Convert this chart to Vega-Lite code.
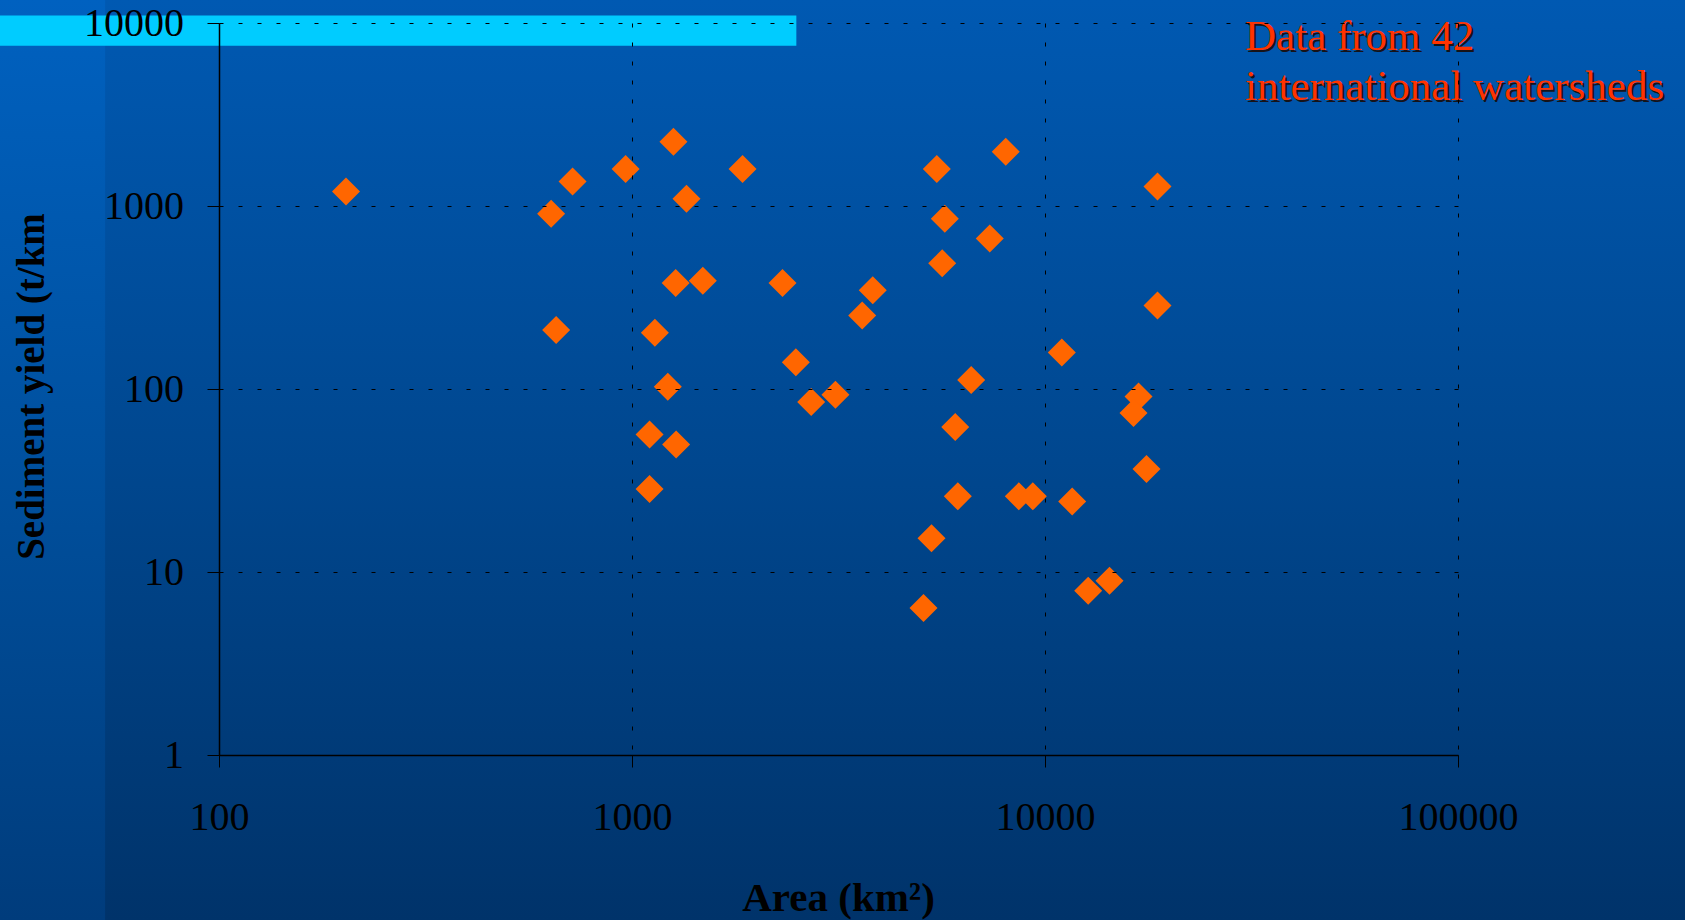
{
  "$schema": "https://vega.github.io/schema/vega-lite/v6.json",
  "width": 1239,
  "height": 732,
  "autosize": {"type": "none"},
  "padding": {"left": 219, "top": 23, "right": 227, "bottom": 165},
  "background": "#00468e",
  "config": {
    "view": {"stroke": null},
    "axis": {
      "grid": true, "gridColor": "#000000", "gridDash": [4, 15], "gridWidth": 1, "gridOpacity": 1,
      "domainColor": "#000000", "domainWidth": 1.5,
      "tickColor": "#000000", "tickSize": 12, "tickWidth": 1,
      "labelFont": "Liberation Serif", "labelFontSize": 40, "labelColor": "#000000",
      "labelFlush": false, "labelOverlap": false,
      "titleFont": "Liberation Serif", "titleFontWeight": "bold", "titleColor": "#000000"
    }
  },
  "layer": [
    {
      "data": {"values": [{}]},
      "mark": {"type": "rect", "fill": {"gradient": "linear", "x1": 0, "y1": 0, "x2": 0, "y2": 1,
        "stops": [{"offset": 0.1249, "color": "#0059b2"}, {"offset": 0.484, "color": "#00478f"}, {"offset": 0.8431, "color": "#00336a"}]}},
      "encoding": {
        "x": {"datum": 10, "type": "quantitative", "title": "Area (km²)", "scale": {"type": "log", "domain": [100, 100000]},
          "axis": {"values": [100, 1000, 10000, 100000], "format": "d", "labelPadding": 30, "titleFontSize": 41, "titleX": 619, "titleY": 155, "titleAlign": "center", "titleBaseline": "alphabetic", "zindex": 1}},
        "x2": {"datum": 1000000},
        "y": {"datum": 100000, "type": "quantitative", "title": "Sediment yield (t/km", "scale": {"type": "log", "domain": [1, 10000]},
          "axis": {"values": [1, 10, 100, 1000, 10000], "format": "d", "labelPadding": 23.5, "titleFontSize": 39, "titleX": -176, "titleY": 363, "titleAngle": 270, "titleAlign": "center", "titleBaseline": "alphabetic", "zindex": 1}},
        "y2": {"datum": 0.01}
      }
    },
    {
      "data": {"values": [{}]},
      "mark": {"type": "rect", "fill": {"gradient": "linear", "x1": 0, "y1": 0, "x2": 0, "y2": 1,
        "stops": [{"offset": 0.1249, "color": "#0061c0"}, {"offset": 0.484, "color": "#00509e"}, {"offset": 0.8431, "color": "#003c7c"}]}},
      "encoding": {
        "x": {"datum": 10, "type": "quantitative", "title": "Area (km²)", "scale": {"type": "log", "domain": [100, 100000]},
          "axis": {"values": [100, 1000, 10000, 100000], "format": "d", "labelPadding": 30, "titleFontSize": 41, "titleX": 619, "titleY": 155, "titleAlign": "center", "titleBaseline": "alphabetic", "zindex": 1}},
        "x2": {"datum": 53},
        "y": {"datum": 100000, "type": "quantitative", "title": "Sediment yield (t/km", "scale": {"type": "log", "domain": [1, 10000]},
          "axis": {"values": [1, 10, 100, 1000, 10000], "format": "d", "labelPadding": 23.5, "titleFontSize": 39, "titleX": -176, "titleY": 363, "titleAngle": 270, "titleAlign": "center", "titleBaseline": "alphabetic", "zindex": 1}},
        "y2": {"datum": 0.01}
      }
    },
    {
      "data": {"values": [{}]},
      "mark": {"type": "rect", "fill": "#00ccff"},
      "encoding": {
        "x": {"datum": 10, "type": "quantitative", "title": "Area (km²)", "scale": {"type": "log", "domain": [100, 100000]},
          "axis": {"values": [100, 1000, 10000, 100000], "format": "d", "labelPadding": 30, "titleFontSize": 41, "titleX": 619, "titleY": 155, "titleAlign": "center", "titleBaseline": "alphabetic", "zindex": 1}},
        "x2": {"datum": 2500},
        "y": {"datum": 11000, "type": "quantitative", "title": "Sediment yield (t/km", "scale": {"type": "log", "domain": [1, 10000]},
          "axis": {"values": [1, 10, 100, 1000, 10000], "format": "d", "labelPadding": 23.5, "titleFontSize": 39, "titleX": -176, "titleY": 363, "titleAngle": 270, "titleAlign": "center", "titleBaseline": "alphabetic", "zindex": 1}},
        "y2": {"datum": 7500}
      }
    },
    {
      "data": {"values": [
        {"area": 203, "yield": 1202}, {"area": 637, "yield": 908}, {"area": 718, "yield": 1363},
        {"area": 655, "yield": 210}, {"area": 965, "yield": 1593}, {"area": 1260, "yield": 2246},
        {"area": 1355, "yield": 1096}, {"area": 1276, "yield": 380}, {"area": 1484, "yield": 391},
        {"area": 1136, "yield": 203}, {"area": 1221, "yield": 103}, {"area": 1103, "yield": 56.5},
        {"area": 1279, "yield": 49.8}, {"area": 1103, "yield": 28.4}, {"area": 1852, "yield": 1593},
        {"area": 2314, "yield": 380}, {"area": 2493, "yield": 140}, {"area": 2716, "yield": 85},
        {"area": 3109, "yield": 93}, {"area": 3609, "yield": 252}, {"area": 3828, "yield": 346},
        {"area": 5470, "yield": 1593}, {"area": 5720, "yield": 852}, {"area": 5638, "yield": 486},
        {"area": 8035, "yield": 1981}, {"area": 7350, "yield": 665}, {"area": 6627, "yield": 112},
        {"area": 6062, "yield": 62}, {"area": 6150, "yield": 25.9}, {"area": 5311, "yield": 15.3},
        {"area": 5080, "yield": 6.36}, {"area": 8641, "yield": 25.9}, {"area": 9344, "yield": 25.9},
        {"area": 10983, "yield": 158.5}, {"area": 11636, "yield": 24.3}, {"area": 12724, "yield": 7.9},
        {"area": 14330, "yield": 8.96}, {"area": 18725, "yield": 1280}, {"area": 18725, "yield": 286},
        {"area": 16845, "yield": 91.1}, {"area": 16380, "yield": 73.9}, {"area": 17613, "yield": 36.5}
      ]},
      "mark": {"type": "point", "shape": "diamond", "filled": true, "size": 784, "color": "#ff6600", "opacity": 1, "strokeWidth": 0},
      "encoding": {
        "x": {"field": "area", "type": "quantitative", "title": "Area (km²)", "scale": {"type": "log", "domain": [100, 100000]},
          "axis": {"values": [100, 1000, 10000, 100000], "format": "d", "labelPadding": 30, "titleFontSize": 41, "titleX": 619, "titleY": 155, "titleAlign": "center", "titleBaseline": "alphabetic", "zindex": 1}},
        "y": {"field": "yield", "type": "quantitative", "title": "Sediment yield (t/km", "scale": {"type": "log", "domain": [1, 10000]},
          "axis": {"values": [1, 10, 100, 1000, 10000], "format": "d", "labelPadding": 23.5, "titleFontSize": 39, "titleX": -176, "titleY": 363, "titleAngle": 270, "titleAlign": "center", "titleBaseline": "alphabetic", "zindex": 1}}
      }
    },
    {
      "data": {"values": [{}]},
      "mark": {"type": "text", "text": ["Data from 42", "international watersheds"], "font": "Liberation Serif", "fontSize": 43, "color": "#1a0800", "opacity": 0.85, "align": "left", "baseline": "top", "dx": 5, "dy": -5, "lineHeight": 50},
      "encoding": {
        "x": {"datum": 30000, "type": "quantitative", "title": "Area (km²)", "scale": {"type": "log", "domain": [100, 100000]},
          "axis": {"values": [100, 1000, 10000, 100000], "format": "d", "labelPadding": 30, "titleFontSize": 41, "titleX": 619, "titleY": 155, "titleAlign": "center", "titleBaseline": "alphabetic", "zindex": 1}},
        "y": {"datum": 10000, "type": "quantitative", "title": "Sediment yield (t/km", "scale": {"type": "log", "domain": [1, 10000]},
          "axis": {"values": [1, 10, 100, 1000, 10000], "format": "d", "labelPadding": 23.5, "titleFontSize": 39, "titleX": -176, "titleY": 363, "titleAngle": 270, "titleAlign": "center", "titleBaseline": "alphabetic", "zindex": 1}}
      }
    },
    {
      "data": {"values": [{}]},
      "mark": {"type": "text", "text": ["Data from 42", "international watersheds"], "font": "Liberation Serif", "fontSize": 43, "color": "#ff3300", "align": "left", "baseline": "top", "dx": 3, "dy": -7, "lineHeight": 50},
      "encoding": {
        "x": {"datum": 30000, "type": "quantitative", "title": "Area (km²)", "scale": {"type": "log", "domain": [100, 100000]},
          "axis": {"values": [100, 1000, 10000, 100000], "format": "d", "labelPadding": 30, "titleFontSize": 41, "titleX": 619, "titleY": 155, "titleAlign": "center", "titleBaseline": "alphabetic", "zindex": 1}},
        "y": {"datum": 10000, "type": "quantitative", "title": "Sediment yield (t/km", "scale": {"type": "log", "domain": [1, 10000]},
          "axis": {"values": [1, 10, 100, 1000, 10000], "format": "d", "labelPadding": 23.5, "titleFontSize": 39, "titleX": -176, "titleY": 363, "titleAngle": 270, "titleAlign": "center", "titleBaseline": "alphabetic", "zindex": 1}}
      }
    }
  ]
}
